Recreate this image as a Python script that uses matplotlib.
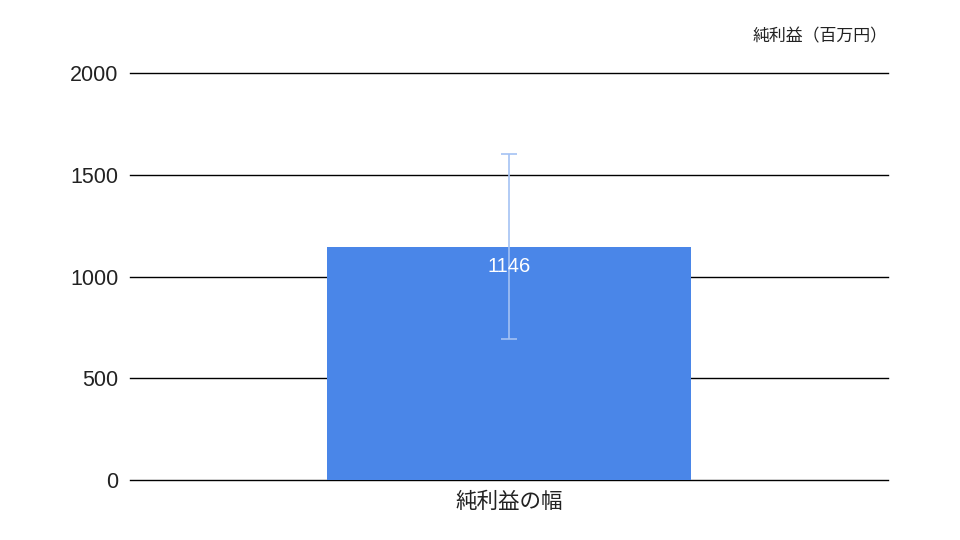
import numpy as np
import matplotlib
matplotlib.use('Agg')
import matplotlib.pyplot as plt

plt.rcParams['font.family'] = ['Liberation Sans', 'Noto Sans CJK JP', 'DejaVu Sans']

# データ
categories = ['純利益の幅']
values = [1146]
err_low = [692]
err_high = [1600]
y_ticks = [0, 500, 1000, 1500, 2000]

fig = plt.figure(figsize=(9.6, 5.4), dpi=100)
ax = fig.add_axes([0.1354, 0.1111, 0.925 - 0.1354, 0.8648 - 0.1111])

x = np.arange(len(categories))
yerr = np.array([[v - lo for v, lo in zip(values, err_low)],
                 [hi - v for v, hi in zip(values, err_high)]])

for t in y_ticks:
    ax.axhline(t, color='black', linewidth=1.0, zorder=1, clip_on=False)

ax.bar(x, values, width=0.958, color='#4a86e8', zorder=2)
ax.errorbar(x, values, yerr=yerr, fmt='none', ecolor='#a4c2f4',
            elinewidth=1.2, capsize=5.5, capthick=1.2, zorder=3)

# 値ラベル
for xi, v in zip(x, values):
    ax.text(xi, v - 50, str(v), ha='center', va='top', color='white',
            fontsize=14.5, zorder=4)

ax.set_xlim(-1, 1)
ax.set_ylim(0, 2000)
ax.set_yticks(y_ticks)
ax.set_yticklabels([str(t) for t in y_ticks], fontsize=15.5, color='#222222')
ax.set_xticks(x)
ax.set_xticklabels(categories, fontsize=15.5, color='#222222')
ax.tick_params(axis='y', length=0, pad=8.5)
ax.tick_params(axis='x', length=0, pad=8.5)
for s in ax.spines.values():
    s.set_visible(False)

fig.text(0.925, 0.933, '純利益（百万円）', ha='right', va='center',
         fontsize=12.2, color='#222222')

fig.savefig('out.png', dpi=100)
